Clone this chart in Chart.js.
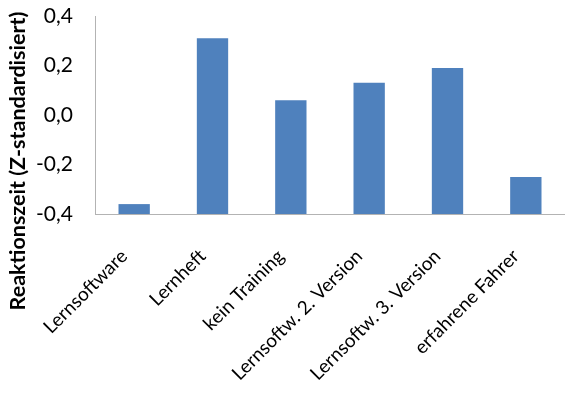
<!DOCTYPE html>
<html>
<head>
<meta charset="utf-8">
<script src="https://cdn.jsdelivr.net/npm/chart.js@4/dist/chart.umd.min.js"></script>
<style>
  html, body { margin: 0; padding: 0; background: #fff; }
  #wrap { width: 565px; height: 394px; position: relative; }
</style>
</head>
<body>
<div id="wrap"><canvas id="c"></canvas></div>
<script>
// Reaction time per training group (z-standardised)
const categories = [
  "Lernsoftware",
  "Lernheft",
  "kein Training",
  "Lernsoftw. 2. Version",
  "Lernsoftw. 3. Version",
  "erfahrene Fahrer"
];
const reaktionszeit = [-0.36, 0.31, 0.06, 0.13, 0.19, -0.25];
const yTicks = [-0.4, -0.2, 0.0, 0.2, 0.4];
const yTitle = "Reaktionszeit (Z-standardisiert)";

const FONT = "Lato, 'Open Sans', sans-serif";

// Rotated axis title, centred on the whole plot block (bars + labels)
const sideTitle = {
  id: "sideTitle",
  afterDraw(chart) {
    const ctx = chart.ctx;
    ctx.save();
    ctx.translate(18, 161);
    ctx.rotate(-Math.PI / 2);
    ctx.font = "bold 21.5px " + FONT;
    ctx.fillStyle = "#000";
    ctx.textAlign = "center";
    ctx.textBaseline = "middle";
    ctx.fillText(yTitle, 0, 0);
    ctx.restore();
  }
};

new Chart(document.getElementById("c"), {
  type: "bar",
  data: {
    labels: categories,
    datasets: [{
      data: reaktionszeit,
      base: yTicks[0],
      backgroundColor: "#4F81BD",
      borderWidth: 0,
      barPercentage: 0.4,
      categoryPercentage: 1.0
    }]
  },
  options: {
    responsive: true,
    maintainAspectRatio: false,
    animation: false,
    layout: { padding: { left: 0, top: 16, right: 0, bottom: 0 } },
    plugins: {
      legend: { display: false },
      tooltip: { enabled: false }
    },
    scales: {
      x: {
        afterFit(scale) {
          scale.height = 180;
          scale.paddingTop = 0;
          scale.paddingLeft = 0;
          scale.paddingRight = 0;
        },
        grid: { display: false, drawTicks: false },
        border: { display: true, color: "#b3b3b3", width: 1 },
        ticks: {
          color: "#000",
          font: { family: FONT, size: 19 },
          minRotation: 45,
          maxRotation: 45,
          padding: 31,
          labelOffset: -10,
          autoSkip: false
        }
      },
      y: {
        min: yTicks[0],
        max: yTicks[yTicks.length - 1],
        afterFit(scale) {
          scale.width = 95;
          scale.paddingTop = 0;
          scale.paddingBottom = 0;
        },
        afterBuildTicks(scale) {
          scale.ticks = yTicks.map(v => ({ value: v }));
        },
        grid: { display: false, drawTicks: false },
        border: { display: true, color: "#b3b3b3", width: 1 },
        ticks: {
          color: "#000",
          font: { family: FONT, size: 21 },
          padding: 22,
          callback: v => v.toFixed(1).replace(".", ",")
        }
      }
    }
  },
  plugins: [sideTitle]
});
</script>
</body>
</html>
